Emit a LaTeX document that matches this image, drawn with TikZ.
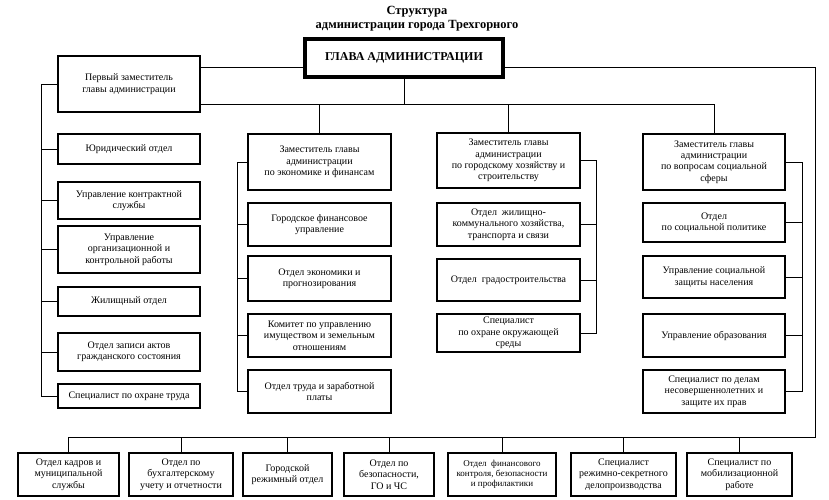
\documentclass[tikz,border=0pt]{standalone}
\usepackage{fontspec}
\setmainfont{Liberation Serif}
\usetikzlibrary{positioning,calc}
\tikzset{
  orgbox/.style={
    draw=black,
    line width=1.6pt,
    fill=white,
    inner sep=1pt,
    align=center,
    font=\fontsize{10}{11.3}\selectfont
  },
  headbox/.style={
    draw=black,
    line width=4pt,
    fill=white,
    minimum width=198,
    minimum height=38,
    align=center,
    font=\fontsize{12}{14}\selectfont\bfseries
  },
  leftbox/.style={orgbox,minimum width=142.4},
  midbox/.style={orgbox,minimum width=143.4},
  lowbox/.style={orgbox,minimum height=43.4},
  link/.style={draw=black,line width=0.8pt}
}

\begin{document}
\begin{tikzpicture}[x=1pt,y=-1pt]
\useasboundingbox (0,0) rectangle (829,499);

\node[align=center,font=\fontsize{12.5}{14}\selectfont\bfseries] (title) at (417,19) {Структура\\администрации города Трехгорного};
\node[headbox] (head) at (404,58) {ГЛАВА АДМИНИСТРАЦИИ};

\node[leftbox,minimum height=56.4] (dep1) at (129,84) {Первый заместитель\\главы администрации};
\node[leftbox,minimum height=30.4] (yur) at (129,149) {Юридический отдел};
\node[leftbox,minimum height=37.4] (kontr) at (129,200.5) {Управление контрактной\\службы};
\node[leftbox,minimum height=47.4] (org) at (129,249.5) {Управление\\организационной и\\контрольной работы};
\node[leftbox,minimum height=29.4] (zhil) at (129,301.5) {Жилищный отдел};
\node[leftbox,minimum height=38.4] (zags) at (129,352) {Отдел записи актов\\гражданского состояния};
\node[leftbox,minimum height=24.4] (okhr) at (129,396) {Специалист по охране труда};

\node[midbox,minimum height=56.4] (dep2) at (319.5,162) {Заместитель главы\\администрации\\по экономике и финансам};
\node[midbox,minimum height=43.4] (fin) at (319.5,224.5) {Городское финансовое\\управление};
\node[midbox,minimum height=45.4] (econ) at (319.5,278.5) {Отдел экономики и\\прогнозирования};
\node[midbox,minimum height=43.4] (komitet) at (319.5,335.5) {Комитет по управлению\\имуществом и земельным\\отношениям};
\node[midbox,minimum height=43.4] (trud) at (319.5,391.5) {Отдел труда и заработной\\платы};

\node[midbox,minimum height=55.4] (dep3) at (508.5,160.5) {Заместитель главы\\администрации\\по городскому хозяйству и\\строительству};
\node[midbox,minimum height=43.4] (zhkh) at (508.5,224.5) {Отдел\ \ жилищно-\\коммунального хозяйства,\\транспорта и связи};
\node[midbox,minimum height=42.4] (grad) at (508.5,280) {Отдел\ \ градостроительства};
\node[midbox,minimum height=38.4] (ecol) at (508.5,333) {Специалист\\по охране окружающей\\среды};

\node[leftbox,minimum height=56.4] (dep4) at (714,162) {Заместитель главы\\администрации\\по вопросам социальной\\сферы};
\node[leftbox,minimum height=39.4] (socpol) at (714,222.5) {Отдел\\по социальной политике};
\node[leftbox,minimum height=42.4] (soczash) at (714,277) {Управление социальной\\защиты населения};
\node[leftbox,minimum height=43.4] (obraz) at (714,335.5) {Управление образования};
\node[leftbox,minimum height=43.4] (nesov) at (714,391.5) {Специалист по делам\\несовершеннолетних и\\защите их прав};

\node[lowbox,minimum width=101.4] (kadr) at (68.5,474.5) {Отдел кадров и\\муниципальной\\службы};
\node[lowbox,minimum width=104.4] (buh) at (181,474.5) {Отдел по\\бухгалтерскому\\учету и отчетности};
\node[lowbox,minimum width=89.4] (rezh) at (287.5,474.5) {Городской\\режимный отдел};
\node[lowbox,minimum width=90.4] (bezop) at (389,474.5) {Отдел по\\безопасности,\\ГО и ЧС};
\node[lowbox,minimum width=108.4,font=\fontsize{9}{10.3}\selectfont] (finkontr) at (502,474.5) {Отдел\ \ финансового\\контроля, безопасности\\и профилактики};
\node[lowbox,minimum width=105.4] (sekret) at (623.5,474.5) {Специалист\\режимно-секретного\\делопроизводства};
\node[lowbox,minimum width=105.4] (mobil) at (739.5,474.5) {Специалист по\\мобилизационной\\работе};

\coordinate (topbus) at ([yshift=-20pt]dep1.east);
\coordinate (lowbus) at (815,437);

\draw[link] ([yshift=-9pt]head.west) -- ([yshift=-9pt]head.west -| dep1.east);
\draw[link] ([yshift=-9pt]head.east) -| (lowbus) -- (lowbus -| kadr.north);
\draw[link] (topbus) -| (dep4.north);
\draw[link] (head.south) -- (head.south |- topbus);
\foreach \n in {dep2,dep3}
  \draw[link] (\n.north) -- (\n.north |- topbus);
\foreach \n in {kadr,buh,rezh,bezop,finkontr,sekret,mobil}
  \draw[link] (\n.north) -- (\n.north |- lowbus);

\draw[link] (dep1.west) -- ++(-16,0) |- (okhr.west);
\foreach \n in {yur,kontr,org,zhil,zags}
  \draw[link] (\n.west) -- ++(-16,0);

\draw[link] (dep2.west) -- ++(-10,0) |- (trud.west);
\foreach \n in {fin,econ,komitet}
  \draw[link] (\n.west) -- ++(-10,0);

\draw[link] (dep3.east) -- ++(15,0) |- (ecol.east);
\foreach \n in {zhkh,grad}
  \draw[link] (\n.east) -- ++(15,0);

\draw[link] (dep4.east) -- ++(16,0) |- (nesov.east);
\foreach \n in {socpol,soczash,obraz}
  \draw[link] (\n.east) -- ++(16,0);
\end{tikzpicture}
\end{document}
